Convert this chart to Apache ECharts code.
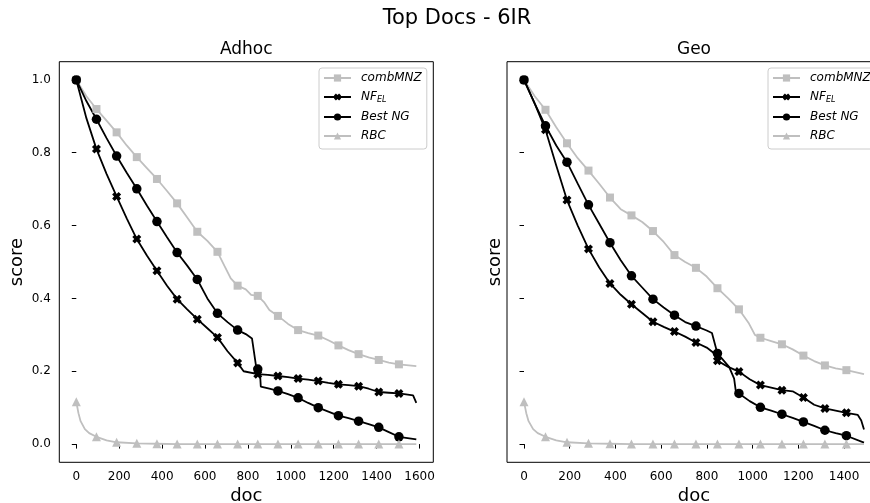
<!DOCTYPE html>
<html><head><meta charset="utf-8">
<script src="https://cdn.jsdelivr.net/npm/echarts@6/dist/echarts.min.js"></script>
<style>html,body{margin:0;padding:0;background:#fff}#c{width:870px;height:503px}</style>
</head><body><div id="c"></div>
<script>
// ---- data ----
const figureTitle = 'Top Docs - 6IR';
const panelTitles = ['Adhoc', 'Geo'];
const xTicksAdhoc = [0, 200, 400, 600, 800, 1000, 1200, 1400, 1600];
const xTicksGeo = [0, 200, 400, 600, 800, 1000, 1200, 1400];
const yTicks = [0, 0.2, 0.4, 0.6, 0.8, 1.0];
const seriesNames = ['combMNZ', 'NF_EL', 'Best NG', 'RBC'];
const markerDocs = [0, 94, 188, 282, 376, 470, 564, 658, 752, 846, 940, 1034, 1128, 1222, 1316, 1410, 1504];
const adhocDocCount = 1585;
const geoDocCount = 1487;

const adhocCombMNZ = [[0,1.0],[47,0.955],[94,0.92],[141,0.888],[188,0.856],[235,0.82],[282,0.788],[329,0.758],[376,0.728],[423,0.695],[470,0.661],[517,0.622],[564,0.583],[611,0.558],[658,0.528],[690,0.49],[720,0.455],[752,0.435],[790,0.425],[815,0.41],[846,0.407],[875,0.39],[900,0.368],[940,0.352],[987,0.33],[1034,0.313],[1081,0.305],[1128,0.298],[1175,0.285],[1222,0.271],[1269,0.258],[1316,0.247],[1363,0.238],[1410,0.231],[1457,0.224],[1504,0.219],[1585,0.214]];
const adhocNFEL = [[0,1.0],[47,0.895],[94,0.81],[141,0.742],[188,0.68],[235,0.62],[282,0.563],[329,0.518],[376,0.476],[423,0.435],[470,0.398],[517,0.37],[564,0.343],[611,0.318],[658,0.293],[705,0.255],[752,0.223],[780,0.2],[846,0.192],[893,0.19],[940,0.187],[987,0.184],[1034,0.18],[1081,0.177],[1128,0.173],[1175,0.168],[1222,0.164],[1269,0.162],[1316,0.159],[1363,0.152],[1410,0.143],[1457,0.141],[1504,0.139],[1570,0.134],[1585,0.113]];
const adhocBestNG = [[0,1.0],[47,0.942],[94,0.892],[141,0.84],[188,0.791],[235,0.745],[282,0.701],[329,0.655],[376,0.611],[423,0.568],[470,0.526],[517,0.49],[564,0.452],[611,0.4],[658,0.359],[705,0.335],[752,0.313],[790,0.302],[819,0.29],[839,0.21],[846,0.206],[856,0.2],[860,0.158],[900,0.152],[940,0.146],[987,0.137],[1034,0.127],[1081,0.113],[1128,0.1],[1175,0.089],[1222,0.078],[1269,0.071],[1316,0.063],[1363,0.055],[1410,0.046],[1457,0.033],[1504,0.02],[1585,0.013]];
const adhocRBC = [[0,0.116],[10,0.085],[20,0.063],[40,0.041],[60,0.03],[94,0.02],[141,0.01],[188,0.005],[282,0.002],[376,0.001],[470,0],[564,0],[658,0],[752,0],[846,0],[940,0],[1034,0],[1128,0],[1222,0],[1316,0],[1410,0],[1504,0],[1585,0]];

const geoCombMNZ = [[0,1.0],[47,0.955],[94,0.918],[141,0.87],[188,0.826],[235,0.785],[282,0.751],[329,0.715],[376,0.677],[423,0.645],[470,0.628],[517,0.61],[564,0.585],[611,0.555],[658,0.519],[705,0.5],[752,0.484],[799,0.46],[846,0.428],[893,0.4],[940,0.37],[984,0.331],[1010,0.3],[1034,0.292],[1081,0.283],[1128,0.274],[1175,0.26],[1222,0.243],[1269,0.228],[1316,0.216],[1363,0.208],[1410,0.203],[1487,0.192]];
const geoNFEL = [[0,1.0],[47,0.935],[94,0.863],[141,0.765],[188,0.67],[235,0.6],[282,0.536],[329,0.485],[376,0.441],[423,0.41],[470,0.384],[517,0.36],[564,0.336],[611,0.322],[658,0.309],[705,0.295],[752,0.279],[799,0.265],[830,0.25],[846,0.229],[893,0.212],[940,0.199],[987,0.178],[1034,0.162],[1081,0.155],[1128,0.148],[1175,0.145],[1222,0.128],[1269,0.108],[1316,0.098],[1363,0.092],[1410,0.086],[1460,0.08],[1475,0.065],[1487,0.04]];
const geoBestNG = [[0,1.0],[47,0.935],[94,0.874],[141,0.82],[188,0.774],[235,0.715],[282,0.657],[329,0.605],[376,0.553],[423,0.505],[470,0.462],[517,0.43],[564,0.398],[611,0.375],[658,0.354],[705,0.335],[752,0.324],[799,0.312],[822,0.305],[846,0.249],[897,0.212],[919,0.18],[927,0.142],[940,0.139],[987,0.118],[1034,0.101],[1081,0.092],[1128,0.082],[1175,0.072],[1222,0.061],[1269,0.05],[1316,0.038],[1363,0.03],[1410,0.023],[1487,0.004]];
const geoRBC = [[0,0.116],[10,0.085],[20,0.063],[40,0.041],[60,0.03],[94,0.02],[141,0.01],[188,0.005],[282,0.002],[376,0.001],[470,0],[564,0],[658,0],[752,0],[846,0],[940,0],[1034,0],[1128,0],[1222,0],[1316,0],[1410,0],[1487,0]];

// ---- styles ----
const FONT = 'DejaVu Sans';
const GRAY = '#bfbfbf';
const BLACK = '#000000';
const X_PATH = 'path://M0,2.8 L2.8,0 L5,2.2 L7.2,0 L10,2.8 L7.8,5 L10,7.2 L7.2,10 L5,7.8 L2.8,10 L0,7.2 L2.2,5 Z';
const styleFor = {
  'combMNZ': { color: GRAY, symbol: 'rect', size: 8 },
  'NF_EL': { color: BLACK, symbol: X_PATH, size: 9 },
  'Best NG': { color: BLACK, symbol: 'circle', size: 9.5 },
  'RBC': { color: GRAY, symbol: 'triangle', size: 9 }
};
const GRID_W = 374, GRID_H = 400.6, GRID_TOP = 61.7;
const gridLefts = [59.3, 507];

function makeSeries(name, data, idx) {
  const st = styleFor[name];
  return {
    type: 'line', name: name, xAxisIndex: idx, yAxisIndex: idx,
    data: data, showSymbol: true, showAllSymbol: true,
    symbol: st.symbol,
    symbolSize: function (v) { return markerDocs.indexOf(v[0]) >= 0 ? st.size : 0; },
    lineStyle: { color: st.color, width: 1.8 },
    itemStyle: { color: st.color, borderWidth: 0 },
    emphasis: { disabled: true },
    silent: true, animation: false
  };
}

function xAxisFor(idx, count, ticks) {
  const m = count * 0.05;
  return {
    type: 'value', gridIndex: idx, min: -m, max: count + m,
    name: 'doc', nameLocation: 'middle', nameGap: 25,
    nameTextStyle: { fontFamily: FONT, fontSize: 18, color: '#000' },
    axisLine: { show: false },
    splitLine: { show: false },
    axisTick: { show: true, inside: false, length: 4.5, lineStyle: { color: '#000', width: 1 }, customValues: ticks },
    axisLabel: { show: true, margin: 8.5, fontFamily: FONT, fontSize: 12, color: '#000', customValues: ticks, formatter: function (v) { return String(Math.round(v)); } }
  };
}
function yAxisFor(idx, showLabels, gap) {
  return {
    type: 'value', gridIndex: idx, min: -0.05, max: 1.05,
    name: 'score', nameLocation: 'middle', nameGap: gap,
    nameTextStyle: { fontFamily: FONT, fontSize: 18, color: '#000' },
    axisLine: { show: false },
    splitLine: { show: false },
    axisTick: { show: true, inside: false, length: 4.5, lineStyle: { color: '#000', width: 1 }, customValues: yTicks },
    axisLabel: { show: showLabels, margin: 8.5, fontFamily: FONT, fontSize: 12, color: '#000', customValues: yTicks, formatter: function (v) { return v.toFixed(1); } }
  };
}
function legendFor(left) {
  return {
    left: left, top: 68, orient: 'vertical',
    data: seriesNames, selectedMode: false,
    itemWidth: 27, itemHeight: 9, itemGap: 7,
    padding: [4, 5, 7, 4],
    backgroundColor: 'rgba(255,255,255,0.8)', borderColor: '#cccccc', borderWidth: 1, borderRadius: 3,
    formatter: function (n) { return n === 'NF_EL' ? '{t|NF}{s|EL}' : '{t|' + n + '}'; },
    textStyle: {
      padding: [0, 0, 0, 5],
      rich: {
        t: { fontFamily: FONT, fontSize: 12, fontStyle: 'italic', color: '#000', lineHeight: 14 },
        s: { fontFamily: FONT, fontSize: 8, fontStyle: 'italic', color: '#000', lineHeight: 8, verticalAlign: 'bottom' }
      }
    }
  };
}

const chart = echarts.init(document.getElementById('c'), null, { renderer: 'canvas' });
chart.setOption({
  animation: false,
  backgroundColor: '#ffffff',
  grid: gridLefts.map(function (l) {
    return { left: l, top: GRID_TOP, width: GRID_W, height: GRID_H, show: true, borderColor: '#000', borderWidth: 1, backgroundColor: 'transparent', containLabel: false, outerBoundsMode: 'none' };
  }),
  xAxis: [xAxisFor(0, adhocDocCount, xTicksAdhoc), xAxisFor(1, geoDocCount, xTicksGeo)],
  yAxis: [yAxisFor(0, true, 33), yAxisFor(1, false, 3)],
  legend: [legendFor(319), legendFor(768)],
  graphic: [
    { type: 'text', style: { text: figureTitle, x: 457, y: 19, textAlign: 'center', textVerticalAlign: 'middle', font: '21px "DejaVu Sans"', fill: '#000' } },
    { type: 'text', style: { text: panelTitles[0], x: gridLefts[0] + GRID_W / 2, y: 50, textAlign: 'center', textVerticalAlign: 'middle', font: '17px "DejaVu Sans"', fill: '#000' } },
    { type: 'text', style: { text: panelTitles[1], x: gridLefts[1] + GRID_W / 2, y: 50, textAlign: 'center', textVerticalAlign: 'middle', font: '17px "DejaVu Sans"', fill: '#000' } }
  ],
  series: [
    makeSeries('combMNZ', adhocCombMNZ, 0),
    makeSeries('NF_EL', adhocNFEL, 0),
    makeSeries('Best NG', adhocBestNG, 0),
    makeSeries('RBC', adhocRBC, 0),
    makeSeries('combMNZ', geoCombMNZ, 1),
    makeSeries('NF_EL', geoNFEL, 1),
    makeSeries('Best NG', geoBestNG, 1),
    makeSeries('RBC', geoRBC, 1)
  ]
});
</script></body></html>
